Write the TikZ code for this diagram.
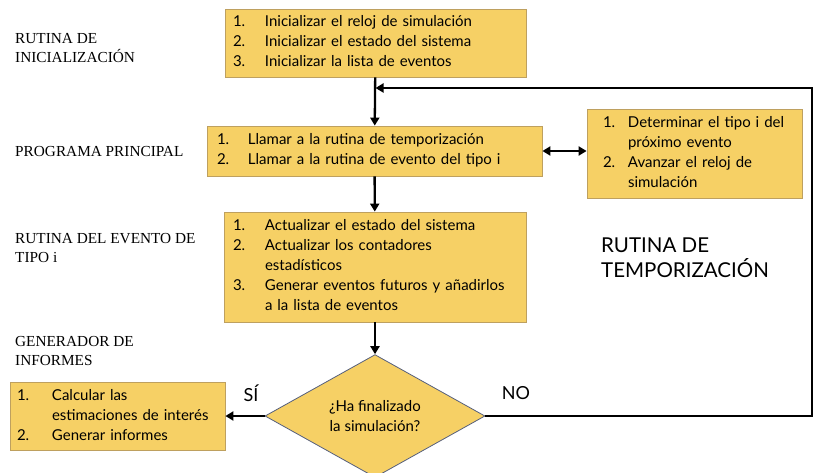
\documentclass[tikz,border=0pt]{standalone}
\usepackage{fontspec}
\setmainfont{Liberation Serif}
\newfontfamily\cajafont{Lato}
\usetikzlibrary{shapes.geometric, arrows.meta, calc, positioning}
\definecolor{amarillo}{RGB}{246,208,101}
\definecolor{borde}{RGB}{190,160,95}
\definecolor{bordeazul}{RGB}{85,95,125}
\tikzstyle{caja} = [rectangle, draw=borde, fill=amarillo, line width=0.8pt, inner ysep=0pt,
align=left, font=\cajafont\fontsize{15}{20}\selectfont]
\tikzstyle{decision} = [diamond, draw=bordeazul, fill=amarillo, line width=0.8pt, inner sep=0pt,
minimum width=220pt, minimum height=107pt, align=center, font=\cajafont\fontsize{15}{20}\selectfont]
\tikzstyle{rotulo} = [anchor=west, align=left, inner sep=0pt, font=\fontsize{15.3}{19}\selectfont]
\tikzstyle{arrow} = [line width=2.3pt, -{Triangle[length=8pt,width=9pt]}]
\newcommand{\pasos}[2]{\begin{tabular}{@{}p{#1}@{}l@{}}#2\end{tabular}}

\begin{document}
\begin{tikzpicture}[x=1pt, y=-1pt]
  \useasboundingbox (0,0) rectangle (820,473);

  % rotulos de la izquierda
  \node (r1) [rotulo] at (15,48) {RUTINA DE\\INICIALIZACIÓN};
  \node (r2) [rotulo] at (15,152) {PROGRAMA PRINCIPAL};
  \node (r3) [rotulo] at (15,248) {RUTINA DEL EVENTO DE\\TIPO i};
  \node (r4) [rotulo] at (15,351) {GENERADOR DE\\INFORMES};

  \node (inicio) [caja, minimum width=301pt, minimum height=68pt, text width=285pt, inner xsep=8pt]
    at (375.5,43) {\pasos{32pt}{1. & Inicializar el reloj de simulación\\
    2. & Inicializar el estado del sistema\\
    3. & Inicializar la lista de eventos}};
  \node (principal) [caja, minimum width=335pt, minimum height=50pt, text width=315pt, inner xsep=10pt]
    at (374.5,151) {\pasos{31pt}{1. & Llamar a la rutina de temporización\\
    2. & Llamar a la rutina de evento del tipo i}};
  \node (temporizacion) [caja, minimum width=215pt, minimum height=89pt, text width=183pt, inner xsep=16pt]
    at (694.5,153.5) {\pasos{25pt}{1. & Determinar el tipo i del\\
     & próximo evento\\
    2. & Avanzar el reloj de\\
     & simulación}};
  \node (evento) [caja, minimum width=302pt, minimum height=110pt, text width=284pt, inner xsep=9pt]
    at (375,267) {\pasos{32pt}{1. & Actualizar el estado del sistema\\
    2. & Actualizar los contadores\\
     & estadísticos\\
    3. & Generar eventos futuros y añadirlos\\
     & a la lista de eventos}};
  \node (fin) [decision] at (375,416) {¿Ha finalizado\\la simulación?};
  \node (informes) [caja, minimum width=215pt, minimum height=68pt, text width=201pt, inner xsep=7pt]
    at (117.5,416) {\pasos{35pt}{1. & Calcular las\\
     & estimaciones de interés\\
    2. & Generar informes}};

  \node (nombre) [anchor=west, align=left, inner sep=0pt, font=\cajafont\fontsize{20.5}{25}\selectfont]
    at (601,257.5) {RUTINA DE\\TEMPORIZACIÓN};
  \node (si) [font=\cajafont\fontsize{18}{18}\selectfont] at (251,393) {SÍ};
  \node (no) [font=\cajafont\fontsize{18}{18}\selectfont] at (516,393) {NO};

  \coordinate (esquina) at (812,88);

  \draw[arrow] (inicio) -- (principal);
  \draw[line width=2.3pt, {Triangle[length=8pt,width=9pt]}-{Triangle[length=8pt,width=9pt]}]
    (principal.east) -- (principal.east -| temporizacion.west);
  \draw[arrow] (principal) -- (evento);
  \draw[arrow] (evento) -- (fin);
  \draw[arrow] (fin.west) -- (informes.east);
  \draw[arrow] (fin.east) -| (esquina) -- (inicio.south |- esquina);
\end{tikzpicture}
\end{document}
